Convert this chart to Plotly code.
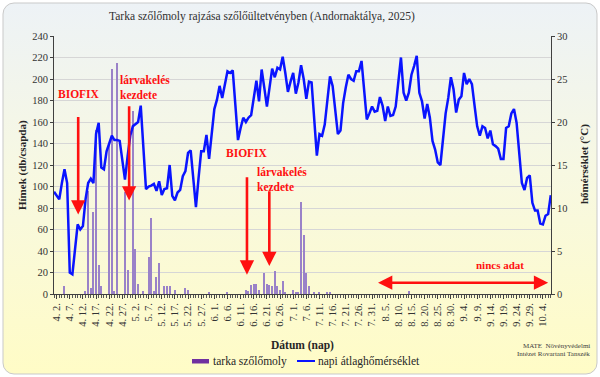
import base64
import pandas as pd
import plotly.graph_objects as go

# ---------------- data ----------------
start_date = "2025-04-01"
# daily mean temperature (°C), 2025-04-01 .. 2025-10-07
temperature = [
    11.9, 11.5, 11.0, 12.9, 14.5, 12.9, 2.5, 2.3, 5.5, 8.1,
    7.5, 7.9, 11.0, 12.9, 13.4, 12.9, 18.6, 19.9, 14.7, 14.5,
    16.6, 17.6, 18.4, 17.9, 17.9, 17.8, 15.7, 13.3, 16.0, 18.4,
    19.5, 19.8, 20.0, 21.9, 16.5, 12.2, 12.5, 12.6, 12.8, 12.0,
    13.1, 11.5, 12.2, 12.3, 15.0, 11.4, 10.9, 11.8, 12.1, 13.7,
    14.3, 16.4, 16.7, 13.5, 10.1, 13.5, 16.6, 16.6, 18.5, 15.7,
    18.5, 21.5, 22.6, 24.2, 22.8, 24.5, 25.9, 25.7, 26.0, 22.0,
    17.9, 19.3, 20.5, 20.0, 20.5, 20.8, 23.0, 24.8, 22.4, 26.1,
    24.0, 21.8, 24.0, 26.2, 25.2, 26.3, 26.1, 27.6, 25.7, 23.5,
    24.7, 25.7, 23.3, 24.6, 26.6, 25.0, 22.7, 24.7, 24.6, 19.9,
    16.1, 18.6, 18.4, 19.7, 22.5, 25.3, 24.2, 21.5, 18.6, 19.0,
    22.2, 24.0, 25.5, 25.0, 24.8, 25.9, 25.9, 27.1, 23.5, 20.3,
    21.0, 21.8, 21.2, 21.3, 22.9, 21.9, 20.1, 21.8, 20.7, 20.8,
    21.8, 24.5, 27.5, 23.4, 22.5, 23.4, 25.5, 26.5, 27.7, 23.4,
    22.4, 20.4, 22.1, 20.5, 17.8, 16.8, 15.3, 15.0, 18.0, 21.0,
    22.8, 25.2, 23.8, 21.1, 22.6, 23.0, 25.7, 24.4, 25.0, 24.4,
    21.9, 19.5, 18.4, 19.5, 19.3, 18.1, 19.0, 17.4, 17.2, 16.9,
    15.7, 15.7, 19.3, 19.5, 21.0, 21.5, 19.9, 16.5, 12.9, 12.1,
    13.5, 13.8, 10.6, 9.7, 9.7, 8.2, 8.1, 9.1, 9.3, 11.5,
]

# trap catches (males / trap)
moth_dates = [
    "2025-04-05", "2025-04-13", "2025-04-14", "2025-04-15", "2025-04-16",
    "2025-04-17", "2025-04-18", "2025-04-19", "2025-04-22", "2025-04-23",
    "2025-04-24", "2025-04-25", "2025-04-28", "2025-04-29", "2025-05-01",
    "2025-05-02", "2025-05-03", "2025-05-05", "2025-05-07", "2025-05-08",
    "2025-05-09", "2025-05-10", "2025-05-11", "2025-05-13", "2025-05-14",
    "2025-05-15", "2025-05-17", "2025-05-21", "2025-05-22", "2025-05-30",
    "2025-06-06", "2025-06-13", "2025-06-14", "2025-06-15", "2025-06-16",
    "2025-06-17", "2025-06-18", "2025-06-20", "2025-06-21", "2025-06-22",
    "2025-06-23", "2025-06-24", "2025-06-25", "2025-06-26", "2025-06-27",
    "2025-06-28", "2025-07-01", "2025-07-02", "2025-07-03", "2025-07-04",
    "2025-07-05", "2025-07-06", "2025-07-07", "2025-07-09", "2025-07-11",
    "2025-07-14", "2025-07-15", "2025-08-14",
]
moth_counts = [
    7, 3, 96, 6, 76,
    153, 27, 7, 140, 209,
    3, 215, 95, 22, 170,
    42, 9, 3, 34, 71,
    3, 16, 29, 7, 7,
    7, 4, 6, 4, 2,
    2, 4, 3, 8, 9,
    9, 4, 20, 9, 8,
    7, 21, 7, 4, 12,
    2, 4, 2, 2, 86,
    55, 20, 7, 2, 2,
    2, 2, 3,
]

tick_dates = pd.date_range("2025-04-02", "2025-10-04", freq="5D")
tick_labels = [f"{d.month}. {d.day}." for d in tick_dates]

biofix_dates = ["2025-04-10 05:00", "2025-06-13 10:00"]
larva_dates = ["2025-04-29 14:00", "2025-06-21 22:00"]
no_data_span = ["2025-08-01 17:00", "2025-10-06 00:00"]

title = "Tarka szőlőmoly rajzása szőlőültetvényben (Andornaktálya, 2025)"
series_names = ["tarka szőlőmoly", "napi átlaghőmérséklet"]

# ---------------- figure ----------------
dates = pd.date_range(start_date, periods=len(temperature), freq="D")

W, H = 600, 377
L, R, T, B = 54, 49, 36, 83
PW, PH = W - L - R, H - T - B


def px(x):
    return (x - L) / PW


def py(y):
    return (H - B - y) / PH


SERIF = "Liberation Serif"
RED = "#ff1010"
day_ms = 86400000

fig = go.Figure()
fig.add_trace(go.Bar(
    x=pd.to_datetime(moth_dates), y=moth_counts, name=series_names[0],
    marker=dict(color="#9a82c8", line=dict(width=0)),
    width=0.45 * day_ms, showlegend=False, yaxis="y",
))
fig.add_trace(go.Scatter(
    x=dates, y=temperature, name=series_names[1], mode="lines",
    line=dict(color="#0a14ff", width=2.5), showlegend=False, yaxis="y2",
))

# background (gradient panel with rounded border)
svg = f'''<svg xmlns="http://www.w3.org/2000/svg" width="{W}" height="{H}" viewBox="0 0 {W} {H}">
<defs><linearGradient id="g" x1="0" y1="0" x2="0" y2="1">
<stop offset="0" stop-color="#edf2f6"/><stop offset="0.45" stop-color="#f7f8e2"/>
<stop offset="1" stop-color="#fffcc6"/></linearGradient></defs>
<rect x="3" y="3" width="594" height="371" rx="11" ry="11" fill="url(#g)" stroke="#c9c9c9" stroke-width="1"/>
</svg>'''
src = "data:image/svg+xml;base64," + base64.b64encode(svg.encode()).decode()

annotations = []


def add_text(text, x, y, size, color="#262626", bold=False, xanchor="center",
             xref="paper", yref="paper", angle=0, yanchor="middle", align="center"):
    if bold:
        text = f"<b>{text}</b>"
    annotations.append(dict(text=text, x=x, y=y, xref=xref, yref=yref,
                            showarrow=False, xanchor=xanchor, yanchor=yanchor,
                            textangle=angle, align=align,
                            font=dict(family=SERIF, size=size, color=color)))


add_text(title, px(262), py(16), 11.5, color="#303030")
add_text("Hímek (db/csapda)", px(22), py(165), 11, bold=True, angle=-90)
add_text("hőmérséklet (°C)", px(584), py(164), 11, bold=True, angle=-90)
add_text("Dátum (nap)", px(302), py(345), 11.5, bold=True)
add_text("MATE  Növényvédelmi", px(592), py(346), 7, xanchor="right", color="#404040")
add_text("Intézet Rovartani Tanszék", px(592), py(354), 7, xanchor="right", color="#404040")

# event labels
add_text("BIOFIX", pd.Timestamp("2025-04-10 08:00"), 186, 11.5, color=RED, bold=True,
         xref="x", yref="y")
add_text("lárvakelés<br>kezdete", pd.Timestamp("2025-04-25 06:00"), 192, 11.5, color=RED,
         bold=True, xanchor="left", xref="x", yref="y", align="left")
add_text("BIOFIX", pd.Timestamp("2025-06-13 12:00"), 131, 11.5, color=RED, bold=True,
         xref="x", yref="y")
add_text("lárvakelés<br>kezdete", pd.Timestamp("2025-06-16 12:00"), 106.5, 11.5, color=RED,
         bold=True, xanchor="left", xref="x", yref="y", align="left")
add_text("nincs adat", pd.Timestamp("2025-09-17 20:00"), 27, 11, color=RED, bold=True,
         xref="x", yref="y")

# arrows
arrow_specs = [
    (biofix_dates[0], 166, 74),
    (larva_dates[0], 176, 87),
    (biofix_dates[1], 110, 18),
    (larva_dates[1], 97, 26),
]
for d, y0, y1 in arrow_specs:
    annotations.append(dict(
        x=pd.Timestamp(d), y=y1, ax=pd.Timestamp(d), ay=y0,
        xref="x", yref="y", axref="x", ayref="y", text="",
        showarrow=True, arrowhead=2, arrowsize=1.1, arrowwidth=2.6, arrowcolor=RED,
    ))
annotations.append(dict(
    x=pd.Timestamp(no_data_span[1]), y=10.5, ax=pd.Timestamp(no_data_span[0]), ay=10.5,
    xref="x", yref="y", axref="x", ayref="y", text="",
    showarrow=True, arrowhead=2, startarrowhead=2, arrowside="end+start",
    arrowsize=1.1, startarrowsize=1.1, arrowwidth=2.6, arrowcolor=RED,
))

# custom legend
shapes = [
    dict(type="rect", xref="paper", yref="paper", x0=px(192), x1=px(209),
         y0=py(363.5), y1=py(359), fillcolor="#7030a0", line=dict(width=0)),
    dict(type="line", xref="paper", yref="paper", x0=px(297), x1=px(315),
         y0=py(361), y1=py(361), line=dict(color="#0a14ff", width=2)),
]
add_text(series_names[0], px(211), py(361.5), 11.5, xanchor="left")
add_text(series_names[1], px(316), py(361.5), 11.5, xanchor="left")

fig.update_layout(
    width=W, height=H,
    margin=dict(l=L, r=R, t=T, b=B, pad=0),
    paper_bgcolor="white", plot_bgcolor="rgba(0,0,0,0)",
    images=[dict(source=src, xref="paper", yref="paper", x=px(0), y=py(0),
                 sizex=W / PW, sizey=H / PH, xanchor="left", yanchor="top",
                 sizing="stretch", layer="below")],
    annotations=annotations, shapes=shapes,
    showlegend=False, bargap=0, hovermode=False,
    xaxis=dict(
        type="date",
        range=[pd.Timestamp("2025-04-01"), pd.Timestamp("2025-10-07 02:00")],
        tickvals=list(tick_dates), ticktext=tick_labels, tickangle=-90,
        tickfont=dict(family=SERIF, size=10.5, color="#333333"),
        ticks="outside", ticklen=4, tickcolor="#404040",
        minor=dict(dtick=day_ms, ticks="outside", ticklen=2.5, tickcolor="#555555",
                   showgrid=False),
        showline=True, linecolor="#404040", linewidth=1, showgrid=False,
        zeroline=False,
    ),
    yaxis=dict(
        range=[0, 240], dtick=20, showgrid=True, gridcolor="#d6d6d6", gridwidth=1,
        showline=True, linecolor="#404040", linewidth=1,
        ticks="outside", ticklen=3, tickcolor="#404040",
        tickfont=dict(family=SERIF, size=10.5, color="#333333"), zeroline=False,
    ),
    yaxis2=dict(
        range=[0, 30], dtick=5, overlaying="y", side="right", showgrid=False,
        showline=True, linecolor="#404040", linewidth=1,
        ticks="outside", ticklen=3, tickcolor="#404040",
        tickfont=dict(family=SERIF, size=10.5, color="#333333"), zeroline=False,
    ),
)

fig.write_html("out.html", config={"displayModeBar": False},
               post_script="document.body.style.margin='0';"
               "document.body.style.padding='0';")
